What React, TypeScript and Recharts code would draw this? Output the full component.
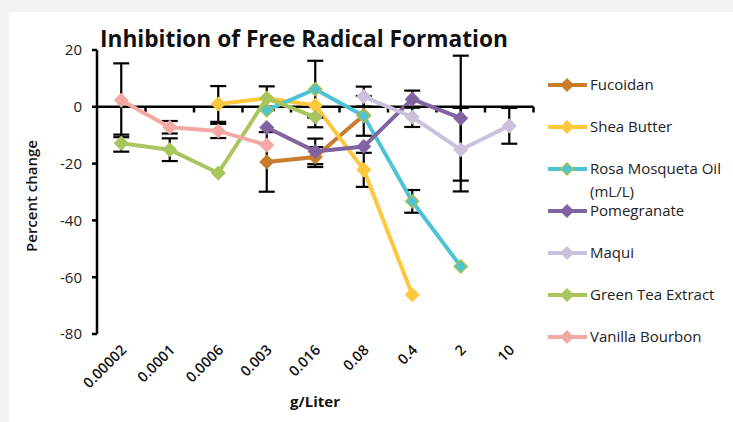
import React from 'react';
import { LineChart, Line, XAxis, YAxis, ErrorBar, ReferenceLine } from 'recharts';

// concentrations (g/Liter) along the category axis
const categories = ['0.00002', '0.0001', '0.0006', '0.003', '0.016', '0.08', '0.4', '2', '10'];
const yTicks = [-80, -60, -40, -20, 0, 20];

// percent change per series, null where the series has no point
const fucoidan = [null, null, null, -19.4, -17.7, -3, null, null, null];
const fucoidanErr = [0, 0, 0, 10.5, 3.5, 0, 0, 0, 0];
const sheaButter = [null, null, 1, 3, 0.5, -22.2, -66.2, null, null];
const sheaButterErr = [0, 0, 6.3, 4.2, 0, 6, 0, 0, 0];
const rosaMosqueta = [null, null, null, -1.2, 6.2, -3.2, -33.3, -56.2, null];
const rosaMosquetaErr = [0, 0, 0, 0, 10, 7, 4, 0, 0];
const pomegranate = [null, null, null, -7.3, -15.7, -14, 2.7, -4, null];
const pomegranateErr = [0, 0, 0, 0, 4.5, 0, 3, 22, 0];
const maqui = [null, null, null, null, null, 3.6, -3.6, -15.1, -6.7];
const maquiErr = [0, 0, 0, 0, 0, 3.5, 3.5, 14.7, 6.3];
const greenTea = [-12.8, -15.1, -23.3, 3, -3.6, null, null, null, null];
const greenTeaErr = [3, 4, 0, 0, 3.6, 0, 0, 0, 0];
const vanilla = [2.3, -7.2, -8.5, -13.5, null, null, null, null, null];
const vanillaErr = [13, 2.2, 2.5, 0, 0, 0, 0, 0, 0];

const series = [
  { key: 'fucoidan', name: 'Fucoidan', color: '#C97D2C', edge: '#C97D2C', values: fucoidan, errors: fucoidanErr },
  { key: 'shea', name: 'Shea Butter', color: '#FFC83C', edge: '#FFC83C', values: sheaButter, errors: sheaButterErr },
  { key: 'rosa', name: 'Rosa Mosqueta Oil\n(mL/L)', color: '#4CC4D6', edge: '#A6BF50', values: rosaMosqueta, errors: rosaMosquetaErr },
  { key: 'pomegranate', name: 'Pomegranate', color: '#8064A2', edge: '#8064A2', values: pomegranate, errors: pomegranateErr },
  { key: 'maqui', name: 'Maqui', color: '#CBC1DC', edge: '#CBC1DC', values: maqui, errors: maquiErr },
  { key: 'greenTea', name: 'Green Tea Extract', color: '#A8C55E', edge: '#A8C55E', values: greenTea, errors: greenTeaErr },
  { key: 'vanilla', name: 'Vanilla Bourbon', color: '#F2A9A6', edge: '#F2A9A6', values: vanilla, errors: vanillaErr },
];

const data = categories.map((c, i) => {
  const row: Record<string, number | null | string> = { x: i, label: c };
  series.forEach(s => {
    row[s.key] = s.values[i];
    row[s.key + 'Err'] = s.errors[i];
  });
  return row;
});

const boundaries = categories.map((_, i) => i + 0.5);

const font = '"Open Sans", sans-serif';

const Diamond = (props: any) => {
  const { cx, cy, fill, edge } = props;
  if (cx == null || cy == null || props.value == null) return null;
  const r = 6.5;
  return (
    <polygon
      points={`${cx},${cy - r} ${cx + r},${cy} ${cx},${cy + r} ${cx - r},${cy}`}
      fill={fill}
      stroke={edge}
      strokeWidth={1.5}
    />
  );
};

const XTick = ({ x, y, payload }: any) => (
  <g transform={`translate(${x + 6},${y + 9})`}>
    <text textAnchor="end" transform="rotate(-45)" fontSize={14.5} fontWeight={600} fill="#111" fontFamily={font}>
      {categories[payload.value]}
    </text>
  </g>
);

const legendTop = 85;
const legendStep = 42;

export default function App() {
  return (
    <div style={{ position: 'absolute', left: 0, top: 0, width: 733, height: 422, background: '#f3f3f3', overflow: 'hidden' }}>
      <div style={{ position: 'absolute', left: 9, top: 12, width: 724, height: 410, background: '#fff' }} />
      <div style={{ position: 'absolute', left: 0, top: 0 }}>
        <LineChart width={733} height={422} data={data} margin={{ top: 50, right: 199.5, bottom: 8, left: 37 }}>
          <XAxis
            type="number"
            dataKey="x"
            domain={[-0.5, 8.5]}
            ticks={[0, 1, 2, 3, 4, 5, 6, 7, 8]}
            interval={0}
            axisLine={false}
            tickLine={false}
            tick={<XTick />}
            height={80}
          />
          <YAxis
            domain={[-80, 20]}
            ticks={yTicks}
            interval={0}
            width={60}
            axisLine={{ stroke: '#000', strokeWidth: 2.5 }}
            tickLine={{ stroke: '#000', strokeWidth: 2.5 }}
            tickSize={5}
            tickMargin={10}
            tick={{ fontSize: 15, fill: '#222', fontFamily: font }}
          />
          <ReferenceLine y={0} stroke="#000" strokeWidth={2.5} />
          {boundaries.map(b => (
            <ReferenceLine
              key={b}
              segment={[{ x: b, y: 0 }, { x: b, y: -2 }]}
              stroke="#000"
              strokeWidth={2.5}
            />
          ))}
          {series.map(s => (
            <Line
              key={s.key}
              dataKey={s.key}
              name={s.name}
              stroke={s.color}
              strokeWidth={4}
              isAnimationActive={false}
              dot={<Diamond fill={s.color} edge={s.edge} />}
              activeDot={false}
            >
              <ErrorBar dataKey={s.key + 'Err'} direction="y" width={8} stroke="#000" strokeWidth={2.2} />
            </Line>
          ))}
        </LineChart>
      </div>
      <svg width={733} height={422} style={{ position: 'absolute', left: 0, top: 0, pointerEvents: 'none' }}>
        <text
          x={304}
          y={47}
          textAnchor="middle"
          fontSize={22.5}
          fontWeight={700}
          fill="#111"
          fontFamily={font}
          textLength={408}
          lengthAdjust="spacingAndGlyphs"
        >
          Inhibition of Free Radical Formation
        </text>
        <text
          transform="translate(37,196) rotate(-90)"
          textAnchor="middle"
          fontSize={15}
          fontWeight={600}
          fill="#111"
          fontFamily={font}
        >
          Percent change
        </text>
        <text x={315} y={407} textAnchor="middle" fontSize={15} fontWeight={700} fill="#111" fontFamily={font}>
          g/Liter
        </text>
        {series.map((s, i) => {
          const cy = legendTop + legendStep * i;
          const lines = s.name.split('\n');
          return (
            <g key={s.key}>
              <line x1={548} x2={587} y1={cy} y2={cy} stroke={s.color} strokeWidth={4} />
              <polygon
                points={`567,${cy - 6} 573,${cy} 567,${cy + 6} 561,${cy}`}
                fill={s.color}
                stroke={s.edge}
                strokeWidth={1.5}
              />
              {lines.map((t, j) => (
                <text key={j} x={590} y={cy + 5 + j * 23} fontSize={15} fill="#222" fontFamily={font}>
                  {t}
                </text>
              ))}
            </g>
          );
        })}
      </svg>
    </div>
  );
}
